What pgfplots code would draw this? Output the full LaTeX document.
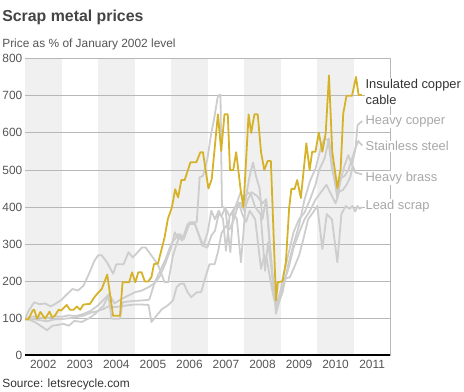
\documentclass[border=0pt]{standalone}
\usepackage{pgfplots}
\pgfplotsset{compat=1.18}
\usepackage{fontspec}
\setmainfont{Liberation Sans}
\definecolor{gold}{HTML}{D6B229}
\definecolor{lgray}{HTML}{CDCDCD}
\definecolor{band}{HTML}{F0F0F0}
\definecolor{gridc}{HTML}{B8B8B8}
\definecolor{txt}{HTML}{555555}
\definecolor{lab}{HTML}{A8A8A8}
\definecolor{ttl}{HTML}{444444}
\definecolor{dark}{HTML}{333333}
\definecolor{baseline}{HTML}{999999}

\begin{document}
\begin{tikzpicture}[x=1bp,y=1bp]
\path (0,0) rectangle (464,393);
\begin{axis}[
  at={(23bp,36bp)}, anchor=south west,
  scale only axis, width=367bp, height=298bp,
  xmin=2002, xmax=2012, ymin=0, ymax=800,
  axis line style={draw=gridc, line width=0.8bp},
  ytick={0,100,200,300,400,500,600,700,800},
  xtick={2002.5,2003.5,2004.5,2005.5,2006.5,2007.5,2008.5,2009.5,2010.5,2011.5},
  xticklabels={2002,2003,2004,2005,2006,2007,2008,2009,2010,2011},
  major tick length=0pt,
  tick label style={font=\fontsize{12}{14}\selectfont, text=txt},
  /pgf/number format/assume math mode=true,
  yticklabel style={inner sep=2.5bp},
  xticklabel style={yshift=-1.5bp},
  every axis plot/.append style={line width=1.8bp, line join=round},
]
% background year bands
\addplot[draw=none, fill=band] coordinates {(2002,0) (2002,800) (2003,800) (2003,0)} -- cycle;
\addplot[draw=none, fill=band] coordinates {(2004,0) (2004,800) (2005,800) (2005,0)} -- cycle;
\addplot[draw=none, fill=band] coordinates {(2006,0) (2006,800) (2007,800) (2007,0)} -- cycle;
\addplot[draw=none, fill=band] coordinates {(2008,0) (2008,800) (2009,800) (2009,0)} -- cycle;
\addplot[draw=none, fill=band] coordinates {(2010,0) (2010,800) (2011,800) (2011,0)} -- cycle;
% horizontal grid lines
\addplot[gridc, line width=0.8bp] coordinates {(2002,100)(2012,100)};
\addplot[gridc, line width=0.8bp] coordinates {(2002,200)(2012,200)};
\addplot[gridc, line width=0.8bp] coordinates {(2002,300)(2012,300)};
\addplot[gridc, line width=0.8bp] coordinates {(2002,400)(2012,400)};
\addplot[gridc, line width=0.8bp] coordinates {(2002,500)(2012,500)};
\addplot[gridc, line width=0.8bp] coordinates {(2002,600)(2012,600)};
\addplot[gridc, line width=0.8bp] coordinates {(2002,700)(2012,700)};

% Lead scrap
\addplot[lgray] coordinates {
(2002.0,100)(2002.2,98)(2002.4,95)(2002.6,92)(2002.8,97)(2003.0,98)(2003.2,100)(2003.4,103)(2003.6,107)(2003.8,115)
(2004.0,120)(2004.15,125)(2004.3,133)(2004.45,130)(2004.6,132)(2004.8,135)(2005.0,137)(2005.2,137)(2005.38,136)(2005.46,90)
(2005.6,107)(2005.75,125)(2005.9,134)(2006.05,148)(2006.15,184)(2006.25,193)(2006.35,193)(2006.45,170)(2006.55,157)(2006.7,170)
(2006.82,170)(2006.95,215)(2007.05,246)(2007.19,246)(2007.28,278)(2007.38,330)(2007.5,349)(2007.6,340)(2007.72,367)(2007.85,412)
(2007.95,380)(2008.05,360)(2008.15,390)(2008.3,367)(2008.46,233)(2008.55,270)(2008.62,260)(2008.72,200)(2008.82,150)(2008.9,135)
(2009.0,170)(2009.1,206)(2009.25,211)(2009.37,238)(2009.5,269)(2009.62,314)(2009.75,367)(2009.88,385)(2010.0,403)(2010.14,287)
(2010.26,381)(2010.4,367)(2010.55,251)(2010.66,381)(2010.78,403)(2010.88,395)(2010.96,403)(2011.04,388)(2011.1,403)(2011.16,395)(2011.23,400)};

% Heavy brass
\addplot[lgray] coordinates {
(2002.0,100)(2002.2,105)(2002.4,102)(2002.6,100)(2002.8,105)(2003.0,104)(2003.2,108)(2003.4,106)(2003.6,112)(2003.8,120)
(2004.0,135)(2004.15,150)(2004.3,165)(2004.45,140)(2004.6,150)(2004.8,160)(2005.0,170)(2005.2,175)(2005.4,185)(2005.55,195)
(2005.7,215)(2005.85,250)(2006.0,291)(2006.1,332)(2006.2,314)(2006.35,320)(2006.5,354)(2006.65,354)(2006.75,327)(2006.85,296)
(2006.99,291)(2007.1,323)(2007.2,336)(2007.3,381)(2007.38,376)(2007.48,399)(2007.62,278)(2007.7,385)(2007.8,412)(2007.9,439)
(2008.0,420)(2008.1,440)(2008.2,430)(2008.3,400)(2008.45,380)(2008.57,228)(2008.65,305)(2008.75,230)(2008.85,143)(2008.92,150)
(2009.05,190)(2009.2,230)(2009.35,290)(2009.5,330)(2009.65,367)(2009.8,390)(2009.95,420)(2010.1,440)(2010.25,460)(2010.4,430)
(2010.5,410)(2010.6,442)(2010.7,446)(2010.8,460)(2010.9,480)(2010.97,511)(2011.05,493)(2011.23,488)};

% Stainless steel
\addplot[lgray] coordinates {
(2002.0,100)(2002.1,120)(2002.25,143)(2002.4,138)(2002.55,140)(2002.7,132)(2002.85,140)(2003.0,150)(2003.15,165)(2003.3,179)
(2003.45,175)(2003.6,188)(2003.75,220)(2003.9,255)(2004.0,270)(2004.1,270)(2004.25,250)(2004.41,220)(2004.5,246)(2004.7,246)
(2004.83,278)(2004.95,264)(2005.1,280)(2005.2,291)(2005.3,291)(2005.5,264)(2005.65,242)(2005.82,197)(2005.92,197)(2006.05,270)
(2006.15,300)(2006.25,327)(2006.35,314)(2006.5,359)(2006.7,359)(2006.78,480)(2006.87,484)(2006.99,529)(2007.1,600)(2007.18,640)
(2007.27,695)(2007.32,703)(2007.35,703)(2007.39,403)(2007.5,394)(2007.6,376)(2007.7,385)(2007.8,367)(2007.91,251)(2007.98,332)
(2008.05,430)(2008.15,484)(2008.24,520)(2008.32,484)(2008.42,450)(2008.5,367)(2008.6,421)(2008.7,300)(2008.8,190)(2008.87,112)
(2008.95,143)(2009.05,206)(2009.2,269)(2009.35,332)(2009.5,367)(2009.65,385)(2009.8,420)(2009.95,460)(2010.05,500)(2010.2,531)
(2010.32,585)(2010.42,504)(2010.55,424)(2010.65,478)(2010.75,484)(2010.85,500)(2010.95,530)(2011.05,560)(2011.12,578)(2011.23,566)};

% Heavy copper
\addplot[lgray] coordinates {
(2002.0,100)(2002.15,95)(2002.3,88)(2002.45,78)(2002.6,68)(2002.75,80)(2002.9,82)(2003.05,85)(2003.2,80)(2003.35,93)
(2003.55,90)(2003.75,100)(2003.92,112)(2004.05,125)(2004.14,132)(2004.28,161)(2004.37,99)(2004.6,99)(2004.67,143)(2004.8,145)
(2005.0,147)(2005.2,148)(2005.4,150)(2005.55,197)(2005.7,228)(2005.85,260)(2006.0,300)(2006.1,314)(2006.2,327)(2006.3,309)
(2006.45,354)(2006.65,354)(2006.75,327)(2006.88,296)(2007.0,332)(2007.1,390)(2007.2,367)(2007.3,390)(2007.42,367)(2007.5,282)
(2007.6,376)(2007.75,400)(2007.9,412)(2008.0,390)(2008.1,420)(2008.2,440)(2008.35,430)(2008.5,410)(2008.6,421)(2008.7,300)
(2008.8,180)(2008.88,125)(2008.95,143)(2009.05,170)(2009.2,242)(2009.35,300)(2009.5,350)(2009.65,420)(2009.8,470)(2009.95,504)
(2010.1,560)(2010.2,585)(2010.3,580)(2010.4,504)(2010.55,442)(2010.65,478)(2010.75,513)(2010.85,540)(2010.95,513)(2011.05,560)
(2011.1,621)(2011.23,632)};

% Insulated copper cable
\addplot[gold] coordinates {
(2002.0,97)(2002.09,97)(2002.21,121)(2002.25,123)(2002.33,99)(2002.42,117)(2002.55,99)(2002.67,118)(2002.74,103)(2002.81,106)
(2002.92,123)(2002.99,121)(2003.14,136)(2003.23,123)(2003.33,123)(2003.42,132)(2003.51,123)(2003.60,137)(2003.78,139)(2003.90,157)
(2004.01,170)(2004.10,179)(2004.25,218)(2004.41,107)(2004.60,107)(2004.67,197)(2004.85,197)(2004.93,224)(2005.02,197)(2005.10,224)
(2005.19,224)(2005.28,199)(2005.37,199)(2005.46,211)(2005.53,246)(2005.64,248)(2005.82,318)(2005.91,368)(2006.02,399)(2006.11,448)
(2006.19,426)(2006.28,473)(2006.37,473)(2006.53,521)(2006.69,521)(2006.80,548)(2006.87,548)(2007.02,450)(2007.11,475)(2007.28,650)
(2007.37,551)(2007.46,650)(2007.55,650)(2007.61,500)(2007.70,500)(2007.78,548)(2007.91,440)(2007.98,400)(2008.12,650)(2008.19,600)
(2008.28,650)(2008.37,650)(2008.46,548)(2008.55,500)(2008.64,524)(2008.73,524)(2008.87,148)(2008.92,197)(2009.05,200)(2009.14,251)
(2009.23,397)(2009.29,449)(2009.38,449)(2009.45,473)(2009.55,424)(2009.66,531)(2009.70,572)(2009.79,500)(2009.86,549)(2009.95,549)
(2010.04,601)(2010.14,549)(2010.23,599)(2010.32,755)(2010.41,549)(2010.55,451)(2010.64,504)(2010.71,652)(2010.80,700)(2010.95,700)
(2011.06,751)(2011.13,702)(2011.23,702)};
\end{axis}
\draw[baseline, line width=2bp] (23,36) -- (390,36);

% right-hand labels
\begin{scope}[every node/.style={anchor=west, fill=white, inner sep=1bp, font=\fontsize{13}{16.5}\selectfont}]
\node[text=dark, align=left] at (364,300.5) {Insulated copper\\cable};
\node[text=lab] at (364,271) {Heavy copper};
\node[text=lab] at (364,246) {Stainless steel};
\node[text=lab] at (364,214) {Heavy brass};
\node[text=lab] at (364,186) {Lead scrap};
\end{scope}

% titles and source
\node[anchor=west, inner sep=0, text=ttl, font=\bfseries\fontsize{16}{18}\selectfont] at (0,376) {Scrap metal prices};
\node[anchor=west, inner sep=0, text=txt, font=\fontsize{12}{14}\selectfont] at (0,348) {Price as \% of January 2002 level};
\node[anchor=west, inner sep=0, text=dark, font=\fontsize{12}{14}\selectfont] at (0,7) {Source: letsrecycle.com};
\end{tikzpicture}
\end{document}
